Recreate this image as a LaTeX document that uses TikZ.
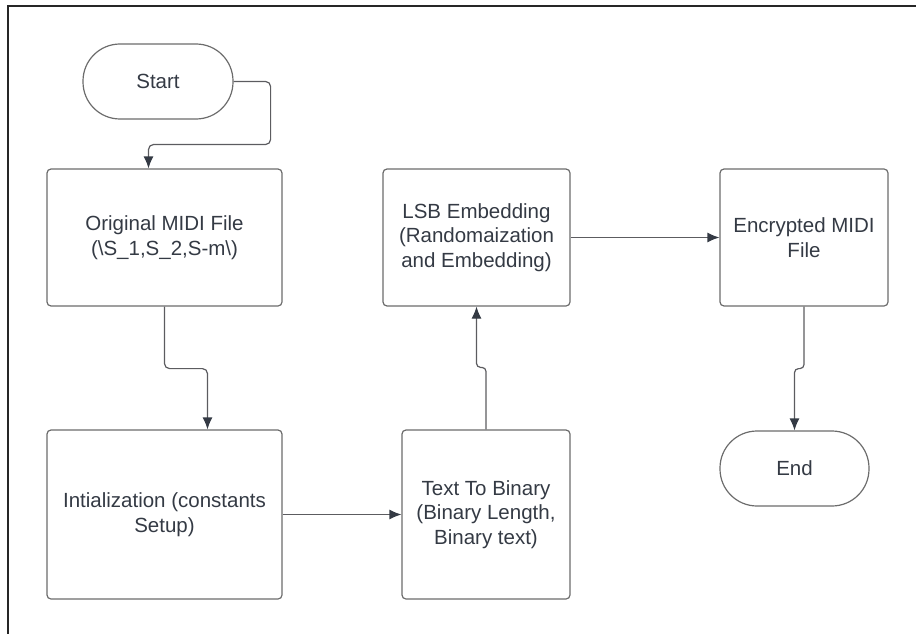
\documentclass[tikz,border=0pt]{standalone}
\usepackage{fontspec}
\setmainfont{Liberation Sans}
\usepackage{tikz}
\usetikzlibrary{arrows.meta}
\definecolor{boxgrey}{RGB}{108,108,108}
\definecolor{textgrey}{RGB}{52,58,68}
\definecolor{linegrey}{RGB}{92,92,96}

\begin{document}
\begin{tikzpicture}[x=1pt,y=-1pt,
    every node/.style={text=textgrey, font=\fontsize{20.5pt}{24.5pt}\selectfont, align=center, inner sep=0pt},
    procbox/.style={draw=boxgrey, line width=1.2pt, rounded corners=4pt},
    terminal/.style={draw=boxgrey, line width=1.2pt, rounded corners=37pt, minimum width=150pt, minimum height=75pt},
    flow/.style={draw=linegrey, line width=1.2pt, rounded corners=5pt, -{Latex[length=12pt,width=10pt,color=textgrey]}}]
    % Fix the page size to the reference
    \useasboundingbox (0,0) rectangle (916,634);

    % Outer frame (cut off at the right and bottom)
    \draw[line width=2pt, black!85] (8,634) -- (8,6) -- (916,6);

    % Start and end terminals
    \node[terminal] (start) at (158,81.5) {Start};
    \node[terminal, minimum width=149pt] (end) at (794.5,468.5) {End};

    % Process boxes, upper row
    \node[procbox, minimum width=235pt, minimum height=137pt] (orig) at (164.5,237.5) {Original MIDI File\\(\textbackslash S\_1,S\_2,S-m\textbackslash)};
    \node[procbox, minimum width=187pt, minimum height=137pt] (lsb) at (476.5,237.5) {LSB Embedding\\(Randomaization\\and Embedding)};
    \node[procbox, minimum width=168pt, minimum height=137pt] (enc) at (804,237.5) {Encrypted MIDI\\File};

    % Process boxes, lower row
    \node[procbox, minimum width=235pt, minimum height=169pt] (init) at (164.5,514.5) {Intialization (constants\\Setup)};
    \node[procbox, minimum width=168pt, minimum height=169pt] (bin) at (486,514.5) {Text To Binary\\(Binary Length,\\Binary text)};

    % Connectors
    \draw[flow] (start.east) -- ++(37,0) -- ++(0,63) -| ([xshift=-16pt]orig.north);
    \draw[flow] (orig.south) -- ++(0,62) -| ([xshift=43pt]init.north);
    \draw[flow] (init.east) -- (bin.west);
    \draw[flow, rounded corners=4pt] (bin.north) -- ++(0,-62) -| (lsb.south);
    \draw[flow] (lsb.east) -- (enc.west);
    \draw[flow, rounded corners=4pt] (enc.south) -- ++(0,62) -| (end.north);
\end{tikzpicture}
\end{document}
